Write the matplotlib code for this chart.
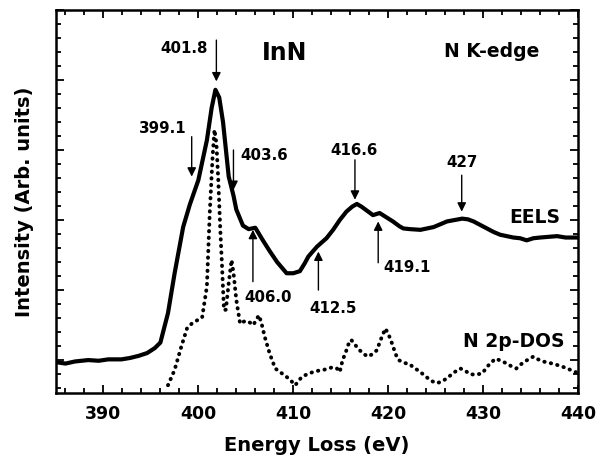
import matplotlib
matplotlib.use("Agg")
import matplotlib.pyplot as plt
from matplotlib.ticker import MultipleLocator

plt.rcParams['font.family'] = ['DejaVu Sans']
plt.rcParams['font.weight'] = 'bold'

# ---------------- data ----------------
eels_x = [385.0, 386.0, 387.0, 388.4, 389.5, 390.5, 391.9, 392.8, 393.7, 394.6,
          395.4, 396.0, 396.8, 397.5, 398.4, 399.1, 400.0, 400.9, 401.4, 401.8,
          402.2, 402.6, 403.2, 403.7, 404.0, 404.7, 405.3, 406.0, 406.8, 407.5,
          408.3, 409.3, 410.0, 410.7, 411.2, 411.6, 412.5, 413.5, 414.2, 414.9,
          415.6, 416.2, 416.7, 417.2, 417.7, 418.4, 419.1, 419.8, 420.5, 421.2,
          421.6, 422.3, 423.4, 424.1, 424.8, 425.5, 426.2, 427.0, 427.8, 428.4,
          429.0, 429.7, 430.4, 431.1, 431.8, 432.5, 433.2, 433.9, 434.6, 435.3,
          436.0, 436.9, 437.8, 438.7, 439.7, 440.0]
eels_y = [-0.03, -0.05, -0.02, 0.00, -0.01, 0.01, 0.01, 0.03, 0.06, 0.10,
          0.17, 0.25, 0.67, 1.24, 1.90, 2.22, 2.57, 3.14, 3.60, 3.86,
          3.75, 3.40, 2.62, 2.35, 2.15, 1.92, 1.87, 1.89, 1.71, 1.56,
          1.40, 1.24, 1.24, 1.27, 1.38, 1.48, 1.62, 1.74, 1.86, 2.00,
          2.12, 2.19, 2.23, 2.19, 2.14, 2.07, 2.10, 2.04, 1.98, 1.91,
          1.88, 1.87, 1.86, 1.88, 1.90, 1.94, 1.98, 2.00, 2.02, 2.01,
          1.98, 1.93, 1.88, 1.83, 1.79, 1.77, 1.75, 1.74, 1.71, 1.74,
          1.75, 1.76, 1.77, 1.75, 1.75, 1.75]

dos_x = [396.8, 397.5, 398.2, 398.8, 399.3, 399.9, 400.4, 400.9, 401.2, 401.5,
         401.7, 401.9, 402.1, 402.3, 402.5, 402.7, 402.9, 403.2, 403.5, 403.7,
         404.0, 404.4, 404.8, 405.1, 405.5, 405.8, 406.1, 406.4, 406.7, 407.0,
         407.5, 408.1, 408.7, 409.3, 409.8, 410.2, 410.9, 411.5, 412.1, 412.7,
         413.2, 413.7, 414.2, 414.6, 414.9, 415.2, 415.5, 415.8, 416.1, 416.5,
         417.0, 417.5, 417.9, 418.4, 418.8, 419.3, 419.7, 420.0, 420.4, 420.8,
         421.1, 421.7, 422.3, 422.6, 423.3, 424.0, 424.6, 425.1, 425.6, 426.2,
         426.9, 427.6, 428.1, 428.6, 429.2, 429.9, 430.6, 431.3, 431.9, 432.5,
         433.0, 433.5, 434.0, 434.4, 435.3, 435.8, 436.3, 437.0, 437.8, 438.7,
         439.7, 440.0]
dos_y = [-0.36, -0.14, 0.19, 0.45, 0.52, 0.57, 0.61, 1.05, 2.10, 2.90,
         3.29, 3.10, 2.57, 1.90, 1.33, 0.71, 0.72, 1.10, 1.43, 1.25,
         0.86, 0.52, 0.55, 0.56, 0.53, 0.50, 0.58, 0.64, 0.50, 0.33,
         0.10, -0.12, -0.18, -0.24, -0.30, -0.36, -0.24, -0.20, -0.17, -0.15,
         -0.14, -0.12, -0.10, -0.12, -0.17, 0.00, 0.10, 0.22, 0.29, 0.22,
         0.14, 0.08, 0.05, 0.09, 0.14, 0.32, 0.45, 0.38, 0.24, 0.08,
         0.00, -0.04, -0.06, -0.10, -0.16, -0.24, -0.30, -0.33, -0.31, -0.26,
         -0.18, -0.12, -0.15, -0.20, -0.21, -0.19, -0.07, 0.02, -0.01, -0.05,
         -0.09, -0.12, -0.06, -0.02, 0.05, 0.01, -0.02, -0.04, -0.07, -0.11,
         -0.17, -0.18]

# annotated peaks: label, text x, text y, arrow x, arrow tail y, arrow tip y, ha
peak_labels = ['401.8', '399.1', '403.6', '416.6', '427', '406.0', '412.5', '419.1']
text_x = [401.0, 396.2, 406.9, 416.4, 427.8, 407.4, 414.2, 419.45]
text_y = [4.38, 3.24, 2.86, 2.93, 2.76, 0.83, 0.67, 1.26]
text_ha = ['right', 'center', 'center', 'center', 'center', 'center', 'center', 'left']
arrow_x = [401.9, 399.3, 403.7, 416.5, 427.75, 405.75, 412.65, 418.95]
arrow_tail = [4.57, 3.19, 3.00, 2.86, 2.64, 1.12, 1.00, 1.39]
arrow_tip = [3.98, 2.62, 2.43, 2.29, 2.12, 1.86, 1.55, 1.98]

x_ticks = [390, 400, 410, 420, 430, 440]

# ---------------- figure ----------------
fig = plt.figure(figsize=(6.0, 4.62), dpi=100)
ax = fig.add_axes([0.0933, 0.1494, 0.87, 0.829])

ax.plot(eels_x, eels_y, color='black', lw=3.0, solid_joinstyle='round',
        solid_capstyle='round')
ax.plot(dos_x, dos_y, color='black', lw=2.8, linestyle=(0, (0.1, 1.6)),
        dash_capstyle='round')

for lab, tx, ty, ha, axx, ta, tp in zip(peak_labels, text_x, text_y, text_ha,
                                        arrow_x, arrow_tail, arrow_tip):
    ax.annotate('', xy=(axx, tp), xytext=(axx, ta),
                arrowprops=dict(arrowstyle='-|>', color='black', lw=1.0,
                                mutation_scale=13, shrinkA=0, shrinkB=0))
    ax.text(tx, ty, lab, ha=ha, va='baseline', fontsize=10.8)

ax.text(409.13, 4.29, 'InN', ha='center', va='baseline', fontsize=17)
ax.text(430.9, 4.33, 'N K-edge', ha='center', va='baseline', fontsize=13.5)
ax.text(438.1, 1.96, 'EELS', ha='right', va='baseline', fontsize=13.5)
ax.text(438.6, 0.19, 'N 2p-DOS', ha='right', va='baseline', fontsize=13.5)

ax.set_xlim(385, 440)
ax.set_ylim(-0.47, 5.0)
ax.set_xticks(x_ticks)
ax.xaxis.set_minor_locator(MultipleLocator(2))
ax.yaxis.set_major_locator(MultipleLocator(1))
ax.yaxis.set_minor_locator(MultipleLocator(0.2))
ax.tick_params(which='both', direction='in', top=True, right=True,
               labelleft=False, width=1.3)
ax.tick_params(which='major', length=6, labelsize=12.5, pad=9)
ax.tick_params(which='minor', length=3.5)
for s in ax.spines.values():
    s.set_linewidth(1.8)

ax.set_xlabel('Energy Loss (eV)', fontsize=14, fontweight='bold', labelpad=9)
ax.set_ylabel('Intensity (Arb. units)', fontsize=14, fontweight='bold',
              labelpad=16)

fig.savefig('out.png', dpi=100)
